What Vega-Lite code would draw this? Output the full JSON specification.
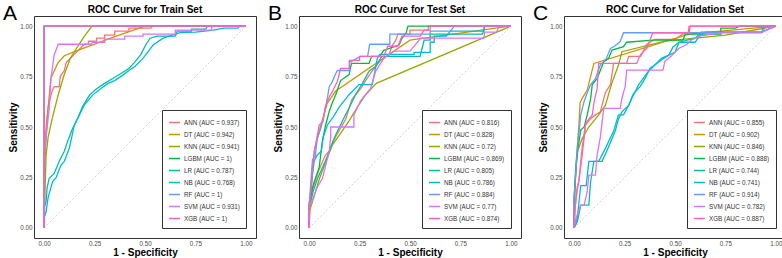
{
"$schema": "https://vega.github.io/schema/vega-lite/v6.json",
"padding": {"left": 2, "right": 0, "top": 2, "bottom": 0},
"spacing": 10,
"resolve": {"scale": {"color": "independent"}, "legend": {"color": "independent"}},
"datasets": {
"train": [
{"model":"ANN","i":0,"fpr":0,"tpr":0},{"model":"ANN","i":1,"fpr":0,"tpr":0.35},{"model":"ANN","i":2,"fpr":0.01,"tpr":0.5},{"model":"ANN","i":3,"fpr":0.02,"tpr":0.6},{"model":"ANN","i":4,"fpr":0.04,"tpr":0.68},{"model":"ANN","i":5,"fpr":0.05,"tpr":0.7},{"model":"ANN","i":6,"fpr":0.075,"tpr":0.7},{"model":"ANN","i":7,"fpr":0.08,"tpr":0.75},{"model":"ANN","i":8,"fpr":0.1,"tpr":0.78},{"model":"ANN","i":9,"fpr":0.11,"tpr":0.82},{"model":"ANN","i":10,"fpr":0.15,"tpr":0.86},{"model":"ANN","i":11,"fpr":0.17,"tpr":0.88},{"model":"ANN","i":12,"fpr":0.2,"tpr":0.91},{"model":"ANN","i":13,"fpr":0.22,"tpr":0.91},{"model":"ANN","i":14,"fpr":0.22,"tpr":0.925},{"model":"ANN","i":15,"fpr":0.26,"tpr":0.925},{"model":"ANN","i":16,"fpr":0.26,"tpr":0.94},{"model":"ANN","i":17,"fpr":0.3,"tpr":0.94},{"model":"ANN","i":18,"fpr":0.3,"tpr":0.955},{"model":"ANN","i":19,"fpr":0.35,"tpr":0.955},{"model":"ANN","i":20,"fpr":0.35,"tpr":0.975},{"model":"ANN","i":21,"fpr":0.42,"tpr":0.975},{"model":"ANN","i":22,"fpr":0.42,"tpr":0.99},{"model":"ANN","i":23,"fpr":0.53,"tpr":0.99},{"model":"ANN","i":24,"fpr":0.537,"tpr":1},{"model":"ANN","i":25,"fpr":1,"tpr":1},
{"model":"DT","i":0,"fpr":0,"tpr":0},{"model":"DT","i":1,"fpr":0.003,"tpr":0.3},{"model":"DT","i":2,"fpr":0.01,"tpr":0.45},{"model":"DT","i":3,"fpr":0.017,"tpr":0.56},{"model":"DT","i":4,"fpr":0.033,"tpr":0.74},{"model":"DT","i":5,"fpr":0.067,"tpr":0.815},{"model":"DT","i":6,"fpr":0.1,"tpr":0.853},{"model":"DT","i":7,"fpr":0.18,"tpr":0.885},{"model":"DT","i":8,"fpr":0.33,"tpr":0.94},{"model":"DT","i":9,"fpr":0.5,"tpr":1},{"model":"DT","i":10,"fpr":1,"tpr":1},
{"model":"KNN","i":0,"fpr":0,"tpr":0},{"model":"KNN","i":1,"fpr":0.005,"tpr":0.2},{"model":"KNN","i":2,"fpr":0.01,"tpr":0.36},{"model":"KNN","i":3,"fpr":0.02,"tpr":0.45},{"model":"KNN","i":4,"fpr":0.04,"tpr":0.54},{"model":"KNN","i":5,"fpr":0.07,"tpr":0.66},{"model":"KNN","i":6,"fpr":0.1,"tpr":0.76},{"model":"KNN","i":7,"fpr":0.13,"tpr":0.84},{"model":"KNN","i":8,"fpr":0.167,"tpr":0.9},{"model":"KNN","i":9,"fpr":0.2,"tpr":0.95},{"model":"KNN","i":10,"fpr":0.237,"tpr":1},{"model":"KNN","i":11,"fpr":1,"tpr":1},
{"model":"LGBM","i":0,"fpr":0,"tpr":0},{"model":"LGBM","i":1,"fpr":0,"tpr":1},{"model":"LGBM","i":2,"fpr":1,"tpr":1},
{"model":"LR","i":0,"fpr":0,"tpr":0},{"model":"LR","i":1,"fpr":0,"tpr":0.1},{"model":"LR","i":2,"fpr":0.01,"tpr":0.13},{"model":"LR","i":3,"fpr":0.015,"tpr":0.2},{"model":"LR","i":4,"fpr":0.025,"tpr":0.245},{"model":"LR","i":5,"fpr":0.05,"tpr":0.27},{"model":"LR","i":6,"fpr":0.075,"tpr":0.33},{"model":"LR","i":7,"fpr":0.1,"tpr":0.38},{"model":"LR","i":8,"fpr":0.117,"tpr":0.43},{"model":"LR","i":9,"fpr":0.14,"tpr":0.49},{"model":"LR","i":10,"fpr":0.167,"tpr":0.543},{"model":"LR","i":11,"fpr":0.19,"tpr":0.6},{"model":"LR","i":12,"fpr":0.225,"tpr":0.658},{"model":"LR","i":13,"fpr":0.26,"tpr":0.69},{"model":"LR","i":14,"fpr":0.3,"tpr":0.716},{"model":"LR","i":15,"fpr":0.34,"tpr":0.74},{"model":"LR","i":16,"fpr":0.383,"tpr":0.766},{"model":"LR","i":17,"fpr":0.42,"tpr":0.79},{"model":"LR","i":18,"fpr":0.45,"tpr":0.823},{"model":"LR","i":19,"fpr":0.48,"tpr":0.86},{"model":"LR","i":20,"fpr":0.5,"tpr":0.9},{"model":"LR","i":21,"fpr":0.525,"tpr":0.94},{"model":"LR","i":22,"fpr":0.56,"tpr":0.95},{"model":"LR","i":23,"fpr":0.65,"tpr":0.95},{"model":"LR","i":24,"fpr":0.66,"tpr":0.975},{"model":"LR","i":25,"fpr":0.73,"tpr":0.975},{"model":"LR","i":26,"fpr":0.73,"tpr":0.985},{"model":"LR","i":27,"fpr":0.8,"tpr":0.985},{"model":"LR","i":28,"fpr":0.81,"tpr":1},{"model":"LR","i":29,"fpr":1,"tpr":1},
{"model":"NB","i":0,"fpr":0,"tpr":0},{"model":"NB","i":1,"fpr":0,"tpr":0.05},{"model":"NB","i":2,"fpr":0.01,"tpr":0.08},{"model":"NB","i":3,"fpr":0.02,"tpr":0.15},{"model":"NB","i":4,"fpr":0.042,"tpr":0.23},{"model":"NB","i":5,"fpr":0.06,"tpr":0.25},{"model":"NB","i":6,"fpr":0.083,"tpr":0.31},{"model":"NB","i":7,"fpr":0.1,"tpr":0.33},{"model":"NB","i":8,"fpr":0.125,"tpr":0.395},{"model":"NB","i":9,"fpr":0.15,"tpr":0.51},{"model":"NB","i":10,"fpr":0.175,"tpr":0.56},{"model":"NB","i":11,"fpr":0.2,"tpr":0.61},{"model":"NB","i":12,"fpr":0.24,"tpr":0.658},{"model":"NB","i":13,"fpr":0.28,"tpr":0.69},{"model":"NB","i":14,"fpr":0.317,"tpr":0.716},{"model":"NB","i":15,"fpr":0.35,"tpr":0.73},{"model":"NB","i":16,"fpr":0.39,"tpr":0.757},{"model":"NB","i":17,"fpr":0.42,"tpr":0.78},{"model":"NB","i":18,"fpr":0.45,"tpr":0.8},{"model":"NB","i":19,"fpr":0.49,"tpr":0.84},{"model":"NB","i":20,"fpr":0.52,"tpr":0.88},{"model":"NB","i":21,"fpr":0.54,"tpr":0.906},{"model":"NB","i":22,"fpr":0.59,"tpr":0.94},{"model":"NB","i":23,"fpr":0.62,"tpr":0.95},{"model":"NB","i":24,"fpr":0.673,"tpr":0.968},{"model":"NB","i":25,"fpr":0.75,"tpr":0.97},{"model":"NB","i":26,"fpr":0.84,"tpr":0.98},{"model":"NB","i":27,"fpr":0.89,"tpr":0.99},{"model":"NB","i":28,"fpr":0.96,"tpr":0.99},{"model":"NB","i":29,"fpr":0.97,"tpr":1},{"model":"NB","i":30,"fpr":1,"tpr":1},
{"model":"RF","i":0,"fpr":0,"tpr":0},{"model":"RF","i":1,"fpr":0,"tpr":1},{"model":"RF","i":2,"fpr":1,"tpr":1},
{"model":"SVM","i":0,"fpr":0,"tpr":0},{"model":"SVM","i":1,"fpr":0,"tpr":0.35},{"model":"SVM","i":2,"fpr":0.01,"tpr":0.45},{"model":"SVM","i":3,"fpr":0.025,"tpr":0.59},{"model":"SVM","i":4,"fpr":0.035,"tpr":0.75},{"model":"SVM","i":5,"fpr":0.05,"tpr":0.857},{"model":"SVM","i":6,"fpr":0.07,"tpr":0.91},{"model":"SVM","i":7,"fpr":0.233,"tpr":0.91},{"model":"SVM","i":8,"fpr":0.24,"tpr":0.92},{"model":"SVM","i":9,"fpr":0.3,"tpr":0.92},{"model":"SVM","i":10,"fpr":0.3,"tpr":0.935},{"model":"SVM","i":11,"fpr":0.4,"tpr":0.935},{"model":"SVM","i":12,"fpr":0.4,"tpr":0.95},{"model":"SVM","i":13,"fpr":0.49,"tpr":0.95},{"model":"SVM","i":14,"fpr":0.49,"tpr":0.96},{"model":"SVM","i":15,"fpr":0.65,"tpr":0.96},{"model":"SVM","i":16,"fpr":0.65,"tpr":0.98},{"model":"SVM","i":17,"fpr":0.83,"tpr":0.98},{"model":"SVM","i":18,"fpr":0.83,"tpr":0.997},{"model":"SVM","i":19,"fpr":0.85,"tpr":1},{"model":"SVM","i":20,"fpr":1,"tpr":1},
{"model":"XGB","i":0,"fpr":0,"tpr":0},{"model":"XGB","i":1,"fpr":0,"tpr":1},{"model":"XGB","i":2,"fpr":1,"tpr":1}
],
"test": [
{"model":"ANN","i":0,"fpr":0,"tpr":0},{"model":"ANN","i":1,"fpr":0,"tpr":0.1},{"model":"ANN","i":2,"fpr":0.02,"tpr":0.2},{"model":"ANN","i":3,"fpr":0.05,"tpr":0.29},{"model":"ANN","i":4,"fpr":0.08,"tpr":0.36},{"model":"ANN","i":5,"fpr":0.1,"tpr":0.38},{"model":"ANN","i":6,"fpr":0.12,"tpr":0.43},{"model":"ANN","i":7,"fpr":0.148,"tpr":0.48},{"model":"ANN","i":8,"fpr":0.182,"tpr":0.54},{"model":"ANN","i":9,"fpr":0.2,"tpr":0.6},{"model":"ANN","i":10,"fpr":0.214,"tpr":0.64},{"model":"ANN","i":11,"fpr":0.256,"tpr":0.69},{"model":"ANN","i":12,"fpr":0.28,"tpr":0.73},{"model":"ANN","i":13,"fpr":0.3,"tpr":0.76},{"model":"ANN","i":14,"fpr":0.322,"tpr":0.79},{"model":"ANN","i":15,"fpr":0.355,"tpr":0.832},{"model":"ANN","i":16,"fpr":0.396,"tpr":0.857},{"model":"ANN","i":17,"fpr":0.41,"tpr":0.9},{"model":"ANN","i":18,"fpr":0.43,"tpr":0.93},{"model":"ANN","i":19,"fpr":0.44,"tpr":0.96},{"model":"ANN","i":20,"fpr":0.5,"tpr":0.96},{"model":"ANN","i":21,"fpr":0.5,"tpr":0.98},{"model":"ANN","i":22,"fpr":0.59,"tpr":0.98},{"model":"ANN","i":23,"fpr":0.59,"tpr":1},{"model":"ANN","i":24,"fpr":1,"tpr":1},
{"model":"DT","i":0,"fpr":0,"tpr":0},{"model":"DT","i":1,"fpr":0.005,"tpr":0.1},{"model":"DT","i":2,"fpr":0.015,"tpr":0.25},{"model":"DT","i":3,"fpr":0.025,"tpr":0.38},{"model":"DT","i":4,"fpr":0.05,"tpr":0.48},{"model":"DT","i":5,"fpr":0.09,"tpr":0.617},{"model":"DT","i":6,"fpr":0.132,"tpr":0.678},{"model":"DT","i":7,"fpr":0.5,"tpr":0.93},{"model":"DT","i":8,"fpr":1,"tpr":1},
{"model":"KNN","i":0,"fpr":0,"tpr":0},{"model":"KNN","i":1,"fpr":0,"tpr":0.08},{"model":"KNN","i":2,"fpr":0.017,"tpr":0.13},{"model":"KNN","i":3,"fpr":0.05,"tpr":0.24},{"model":"KNN","i":4,"fpr":0.08,"tpr":0.32},{"model":"KNN","i":5,"fpr":0.115,"tpr":0.41},{"model":"KNN","i":6,"fpr":0.15,"tpr":0.46},{"model":"KNN","i":7,"fpr":0.198,"tpr":0.53},{"model":"KNN","i":8,"fpr":0.24,"tpr":0.6},{"model":"KNN","i":9,"fpr":0.28,"tpr":0.66},{"model":"KNN","i":10,"fpr":0.333,"tpr":0.716},{"model":"KNN","i":11,"fpr":1,"tpr":1},
{"model":"LGBM","i":0,"fpr":0,"tpr":0},{"model":"LGBM","i":1,"fpr":0,"tpr":0.12},{"model":"LGBM","i":2,"fpr":0.017,"tpr":0.2},{"model":"LGBM","i":3,"fpr":0.025,"tpr":0.228},{"model":"LGBM","i":4,"fpr":0.05,"tpr":0.3},{"model":"LGBM","i":5,"fpr":0.066,"tpr":0.43},{"model":"LGBM","i":6,"fpr":0.082,"tpr":0.51},{"model":"LGBM","i":7,"fpr":0.099,"tpr":0.575},{"model":"LGBM","i":8,"fpr":0.115,"tpr":0.62},{"model":"LGBM","i":9,"fpr":0.132,"tpr":0.66},{"model":"LGBM","i":10,"fpr":0.156,"tpr":0.73},{"model":"LGBM","i":11,"fpr":0.198,"tpr":0.76},{"model":"LGBM","i":12,"fpr":0.21,"tpr":0.815},{"model":"LGBM","i":13,"fpr":0.297,"tpr":0.815},{"model":"LGBM","i":14,"fpr":0.31,"tpr":0.85},{"model":"LGBM","i":15,"fpr":0.35,"tpr":0.85},{"model":"LGBM","i":16,"fpr":0.37,"tpr":0.88},{"model":"LGBM","i":17,"fpr":0.446,"tpr":0.906},{"model":"LGBM","i":18,"fpr":0.46,"tpr":0.94},{"model":"LGBM","i":19,"fpr":0.48,"tpr":0.963},{"model":"LGBM","i":20,"fpr":0.49,"tpr":1},{"model":"LGBM","i":21,"fpr":1,"tpr":1},
{"model":"LR","i":0,"fpr":0,"tpr":0},{"model":"LR","i":1,"fpr":0,"tpr":0.1},{"model":"LR","i":2,"fpr":0.02,"tpr":0.18},{"model":"LR","i":3,"fpr":0.042,"tpr":0.245},{"model":"LR","i":4,"fpr":0.08,"tpr":0.33},{"model":"LR","i":5,"fpr":0.1,"tpr":0.38},{"model":"LR","i":6,"fpr":0.124,"tpr":0.444},{"model":"LR","i":7,"fpr":0.165,"tpr":0.53},{"model":"LR","i":8,"fpr":0.198,"tpr":0.594},{"model":"LR","i":9,"fpr":0.23,"tpr":0.66},{"model":"LR","i":10,"fpr":0.264,"tpr":0.716},{"model":"LR","i":11,"fpr":0.297,"tpr":0.776},{"model":"LR","i":12,"fpr":0.33,"tpr":0.8},{"model":"LR","i":13,"fpr":0.36,"tpr":0.85},{"model":"LR","i":14,"fpr":0.55,"tpr":0.85},{"model":"LR","i":15,"fpr":0.57,"tpr":0.93},{"model":"LR","i":16,"fpr":0.6,"tpr":0.93},{"model":"LR","i":17,"fpr":0.6,"tpr":0.96},{"model":"LR","i":18,"fpr":0.86,"tpr":0.96},{"model":"LR","i":19,"fpr":0.87,"tpr":1},{"model":"LR","i":20,"fpr":1,"tpr":1},
{"model":"NB","i":0,"fpr":0,"tpr":0},{"model":"NB","i":1,"fpr":0,"tpr":0.1},{"model":"NB","i":2,"fpr":0.015,"tpr":0.25},{"model":"NB","i":3,"fpr":0.025,"tpr":0.33},{"model":"NB","i":4,"fpr":0.04,"tpr":0.36},{"model":"NB","i":5,"fpr":0.06,"tpr":0.38},{"model":"NB","i":6,"fpr":0.07,"tpr":0.45},{"model":"NB","i":7,"fpr":0.091,"tpr":0.51},{"model":"NB","i":8,"fpr":0.12,"tpr":0.55},{"model":"NB","i":9,"fpr":0.15,"tpr":0.6},{"model":"NB","i":10,"fpr":0.198,"tpr":0.66},{"model":"NB","i":11,"fpr":0.247,"tpr":0.71},{"model":"NB","i":12,"fpr":0.313,"tpr":0.71},{"model":"NB","i":13,"fpr":0.338,"tpr":0.84},{"model":"NB","i":14,"fpr":0.35,"tpr":0.86},{"model":"NB","i":15,"fpr":0.52,"tpr":0.86},{"model":"NB","i":16,"fpr":0.52,"tpr":0.87},{"model":"NB","i":17,"fpr":0.6,"tpr":0.87},{"model":"NB","i":18,"fpr":0.6,"tpr":0.92},{"model":"NB","i":19,"fpr":0.62,"tpr":0.92},{"model":"NB","i":20,"fpr":0.62,"tpr":0.95},{"model":"NB","i":21,"fpr":0.68,"tpr":0.95},{"model":"NB","i":22,"fpr":0.7,"tpr":0.975},{"model":"NB","i":23,"fpr":0.866,"tpr":0.975},{"model":"NB","i":24,"fpr":0.87,"tpr":1},{"model":"NB","i":25,"fpr":1,"tpr":1},
{"model":"RF","i":0,"fpr":0,"tpr":0},{"model":"RF","i":1,"fpr":0,"tpr":0.1},{"model":"RF","i":2,"fpr":0.01,"tpr":0.25},{"model":"RF","i":3,"fpr":0.017,"tpr":0.34},{"model":"RF","i":4,"fpr":0.03,"tpr":0.35},{"model":"RF","i":5,"fpr":0.04,"tpr":0.44},{"model":"RF","i":6,"fpr":0.06,"tpr":0.5},{"model":"RF","i":7,"fpr":0.074,"tpr":0.56},{"model":"RF","i":8,"fpr":0.09,"tpr":0.64},{"model":"RF","i":9,"fpr":0.1,"tpr":0.7},{"model":"RF","i":10,"fpr":0.115,"tpr":0.725},{"model":"RF","i":11,"fpr":0.13,"tpr":0.76},{"model":"RF","i":12,"fpr":0.14,"tpr":0.78},{"model":"RF","i":13,"fpr":0.2,"tpr":0.78},{"model":"RF","i":14,"fpr":0.2,"tpr":0.82},{"model":"RF","i":15,"fpr":0.255,"tpr":0.85},{"model":"RF","i":16,"fpr":0.29,"tpr":0.85},{"model":"RF","i":17,"fpr":0.3,"tpr":0.91},{"model":"RF","i":18,"fpr":0.4,"tpr":0.91},{"model":"RF","i":19,"fpr":0.4,"tpr":0.96},{"model":"RF","i":20,"fpr":0.6,"tpr":0.96},{"model":"RF","i":21,"fpr":0.6,"tpr":0.975},{"model":"RF","i":22,"fpr":0.7,"tpr":0.975},{"model":"RF","i":23,"fpr":0.72,"tpr":1},{"model":"RF","i":24,"fpr":1,"tpr":1},
{"model":"SVM","i":0,"fpr":0,"tpr":0},{"model":"SVM","i":1,"fpr":0,"tpr":0.1},{"model":"SVM","i":2,"fpr":0.02,"tpr":0.15},{"model":"SVM","i":3,"fpr":0.04,"tpr":0.2},{"model":"SVM","i":4,"fpr":0.066,"tpr":0.245},{"model":"SVM","i":5,"fpr":0.08,"tpr":0.3},{"model":"SVM","i":6,"fpr":0.1,"tpr":0.38},{"model":"SVM","i":7,"fpr":0.107,"tpr":0.45},{"model":"SVM","i":8,"fpr":0.107,"tpr":0.5},{"model":"SVM","i":9,"fpr":0.222,"tpr":0.5},{"model":"SVM","i":10,"fpr":0.222,"tpr":0.56},{"model":"SVM","i":11,"fpr":0.255,"tpr":0.63},{"model":"SVM","i":12,"fpr":0.304,"tpr":0.69},{"model":"SVM","i":13,"fpr":0.33,"tpr":0.777},{"model":"SVM","i":14,"fpr":0.37,"tpr":0.84},{"model":"SVM","i":15,"fpr":0.42,"tpr":0.876},{"model":"SVM","i":16,"fpr":0.5,"tpr":0.876},{"model":"SVM","i":17,"fpr":0.545,"tpr":0.93},{"model":"SVM","i":18,"fpr":0.55,"tpr":0.94},{"model":"SVM","i":19,"fpr":0.866,"tpr":0.94},{"model":"SVM","i":20,"fpr":0.87,"tpr":0.97},{"model":"SVM","i":21,"fpr":0.93,"tpr":0.97},{"model":"SVM","i":22,"fpr":0.94,"tpr":1},{"model":"SVM","i":23,"fpr":1,"tpr":1},
{"model":"XGB","i":0,"fpr":0,"tpr":0},{"model":"XGB","i":1,"fpr":0,"tpr":0.1},{"model":"XGB","i":2,"fpr":0.01,"tpr":0.2},{"model":"XGB","i":3,"fpr":0.017,"tpr":0.3},{"model":"XGB","i":4,"fpr":0.03,"tpr":0.4},{"model":"XGB","i":5,"fpr":0.05,"tpr":0.51},{"model":"XGB","i":6,"fpr":0.07,"tpr":0.53},{"model":"XGB","i":7,"fpr":0.08,"tpr":0.6},{"model":"XGB","i":8,"fpr":0.1,"tpr":0.65},{"model":"XGB","i":9,"fpr":0.115,"tpr":0.675},{"model":"XGB","i":10,"fpr":0.14,"tpr":0.725},{"model":"XGB","i":11,"fpr":0.156,"tpr":0.79},{"model":"XGB","i":12,"fpr":0.2,"tpr":0.79},{"model":"XGB","i":13,"fpr":0.2,"tpr":0.83},{"model":"XGB","i":14,"fpr":0.25,"tpr":0.83},{"model":"XGB","i":15,"fpr":0.25,"tpr":0.85},{"model":"XGB","i":16,"fpr":0.37,"tpr":0.85},{"model":"XGB","i":17,"fpr":0.39,"tpr":0.9},{"model":"XGB","i":18,"fpr":0.44,"tpr":0.9},{"model":"XGB","i":19,"fpr":0.46,"tpr":0.95},{"model":"XGB","i":20,"fpr":0.55,"tpr":0.95},{"model":"XGB","i":21,"fpr":0.57,"tpr":0.98},{"model":"XGB","i":22,"fpr":0.6,"tpr":0.98},{"model":"XGB","i":23,"fpr":0.6,"tpr":1},{"model":"XGB","i":24,"fpr":1,"tpr":1}
],
"validation": [
{"model":"ANN","i":0,"fpr":0,"tpr":0},{"model":"ANN","i":1,"fpr":0.005,"tpr":0.1},{"model":"ANN","i":2,"fpr":0.015,"tpr":0.18},{"model":"ANN","i":3,"fpr":0.024,"tpr":0.235},{"model":"ANN","i":4,"fpr":0.04,"tpr":0.36},{"model":"ANN","i":5,"fpr":0.057,"tpr":0.51},{"model":"ANN","i":6,"fpr":0.08,"tpr":0.54},{"model":"ANN","i":7,"fpr":0.106,"tpr":0.56},{"model":"ANN","i":8,"fpr":0.13,"tpr":0.575},{"model":"ANN","i":9,"fpr":0.155,"tpr":0.67},{"model":"ANN","i":10,"fpr":0.18,"tpr":0.71},{"model":"ANN","i":11,"fpr":0.196,"tpr":0.815},{"model":"ANN","i":12,"fpr":0.26,"tpr":0.815},{"model":"ANN","i":13,"fpr":0.27,"tpr":0.85},{"model":"ANN","i":14,"fpr":0.33,"tpr":0.85},{"model":"ANN","i":15,"fpr":0.36,"tpr":0.91},{"model":"ANN","i":16,"fpr":0.4,"tpr":0.934},{"model":"ANN","i":17,"fpr":0.5,"tpr":0.934},{"model":"ANN","i":18,"fpr":0.55,"tpr":0.967},{"model":"ANN","i":19,"fpr":0.565,"tpr":0.967},{"model":"ANN","i":20,"fpr":0.57,"tpr":1},{"model":"ANN","i":21,"fpr":1,"tpr":1},
{"model":"DT","i":0,"fpr":0,"tpr":0},{"model":"DT","i":1,"fpr":0.005,"tpr":0.2},{"model":"DT","i":2,"fpr":0.012,"tpr":0.35},{"model":"DT","i":3,"fpr":0.024,"tpr":0.51},{"model":"DT","i":4,"fpr":0.03,"tpr":0.62},{"model":"DT","i":5,"fpr":0.04,"tpr":0.642},{"model":"DT","i":6,"fpr":0.065,"tpr":0.683},{"model":"DT","i":7,"fpr":0.098,"tpr":0.815},{"model":"DT","i":8,"fpr":0.57,"tpr":0.96},{"model":"DT","i":9,"fpr":1,"tpr":1},
{"model":"KNN","i":0,"fpr":0,"tpr":0},{"model":"KNN","i":1,"fpr":0.003,"tpr":0.2},{"model":"KNN","i":2,"fpr":0.008,"tpr":0.3},{"model":"KNN","i":3,"fpr":0.016,"tpr":0.378},{"model":"KNN","i":4,"fpr":0.04,"tpr":0.443},{"model":"KNN","i":5,"fpr":0.073,"tpr":0.5},{"model":"KNN","i":6,"fpr":0.122,"tpr":0.56},{"model":"KNN","i":7,"fpr":0.155,"tpr":0.607},{"model":"KNN","i":8,"fpr":0.188,"tpr":0.72},{"model":"KNN","i":9,"fpr":0.22,"tpr":0.807},{"model":"KNN","i":10,"fpr":0.237,"tpr":0.873},{"model":"KNN","i":11,"fpr":0.45,"tpr":0.925},{"model":"KNN","i":12,"fpr":0.75,"tpr":0.955},{"model":"KNN","i":13,"fpr":1,"tpr":1},
{"model":"LGBM","i":0,"fpr":0,"tpr":0},{"model":"LGBM","i":1,"fpr":0,"tpr":0.15},{"model":"LGBM","i":2,"fpr":0.01,"tpr":0.3},{"model":"LGBM","i":3,"fpr":0.02,"tpr":0.4},{"model":"LGBM","i":4,"fpr":0.033,"tpr":0.485},{"model":"LGBM","i":5,"fpr":0.05,"tpr":0.5},{"model":"LGBM","i":6,"fpr":0.065,"tpr":0.56},{"model":"LGBM","i":7,"fpr":0.082,"tpr":0.64},{"model":"LGBM","i":8,"fpr":0.09,"tpr":0.71},{"model":"LGBM","i":9,"fpr":0.114,"tpr":0.74},{"model":"LGBM","i":10,"fpr":0.13,"tpr":0.78},{"model":"LGBM","i":11,"fpr":0.147,"tpr":0.823},{"model":"LGBM","i":12,"fpr":0.171,"tpr":0.84},{"model":"LGBM","i":13,"fpr":0.188,"tpr":0.881},{"model":"LGBM","i":14,"fpr":0.245,"tpr":0.898},{"model":"LGBM","i":15,"fpr":0.26,"tpr":0.92},{"model":"LGBM","i":16,"fpr":0.392,"tpr":0.93},{"model":"LGBM","i":17,"fpr":0.54,"tpr":0.93},{"model":"LGBM","i":18,"fpr":0.55,"tpr":0.96},{"model":"LGBM","i":19,"fpr":0.727,"tpr":0.96},{"model":"LGBM","i":20,"fpr":0.727,"tpr":0.99},{"model":"LGBM","i":21,"fpr":0.8,"tpr":0.99},{"model":"LGBM","i":22,"fpr":0.82,"tpr":1},{"model":"LGBM","i":23,"fpr":1,"tpr":1},
{"model":"LR","i":0,"fpr":0,"tpr":0},{"model":"LR","i":1,"fpr":0.016,"tpr":0.03},{"model":"LR","i":2,"fpr":0.033,"tpr":0.113},{"model":"LR","i":3,"fpr":0.073,"tpr":0.113},{"model":"LR","i":4,"fpr":0.082,"tpr":0.23},{"model":"LR","i":5,"fpr":0.098,"tpr":0.33},{"model":"LR","i":6,"fpr":0.139,"tpr":0.33},{"model":"LR","i":7,"fpr":0.17,"tpr":0.4},{"model":"LR","i":8,"fpr":0.204,"tpr":0.48},{"model":"LR","i":9,"fpr":0.22,"tpr":0.54},{"model":"LR","i":10,"fpr":0.237,"tpr":0.575},{"model":"LR","i":11,"fpr":0.27,"tpr":0.607},{"model":"LR","i":12,"fpr":0.294,"tpr":0.666},{"model":"LR","i":13,"fpr":0.327,"tpr":0.7},{"model":"LR","i":14,"fpr":0.351,"tpr":0.74},{"model":"LR","i":15,"fpr":0.376,"tpr":0.79},{"model":"LR","i":16,"fpr":0.433,"tpr":0.832},{"model":"LR","i":17,"fpr":0.47,"tpr":0.856},{"model":"LR","i":18,"fpr":0.49,"tpr":0.897},{"model":"LR","i":19,"fpr":0.52,"tpr":0.92},{"model":"LR","i":20,"fpr":0.6,"tpr":0.94},{"model":"LR","i":21,"fpr":0.63,"tpr":0.97},{"model":"LR","i":22,"fpr":0.93,"tpr":0.97},{"model":"LR","i":23,"fpr":0.94,"tpr":1},{"model":"LR","i":24,"fpr":1,"tpr":1},
{"model":"NB","i":0,"fpr":0,"tpr":0},{"model":"NB","i":1,"fpr":0.016,"tpr":0.05},{"model":"NB","i":2,"fpr":0.033,"tpr":0.21},{"model":"NB","i":3,"fpr":0.06,"tpr":0.21},{"model":"NB","i":4,"fpr":0.073,"tpr":0.33},{"model":"NB","i":5,"fpr":0.122,"tpr":0.33},{"model":"NB","i":6,"fpr":0.155,"tpr":0.394},{"model":"NB","i":7,"fpr":0.196,"tpr":0.48},{"model":"NB","i":8,"fpr":0.22,"tpr":0.56},{"model":"NB","i":9,"fpr":0.245,"tpr":0.56},{"model":"NB","i":10,"fpr":0.27,"tpr":0.607},{"model":"NB","i":11,"fpr":0.295,"tpr":0.66},{"model":"NB","i":12,"fpr":0.32,"tpr":0.71},{"model":"NB","i":13,"fpr":0.367,"tpr":0.774},{"model":"NB","i":14,"fpr":0.4,"tpr":0.807},{"model":"NB","i":15,"fpr":0.433,"tpr":0.84},{"model":"NB","i":16,"fpr":0.5,"tpr":0.87},{"model":"NB","i":17,"fpr":0.52,"tpr":0.92},{"model":"NB","i":18,"fpr":0.6,"tpr":0.92},{"model":"NB","i":19,"fpr":0.62,"tpr":0.95},{"model":"NB","i":20,"fpr":0.65,"tpr":0.97},{"model":"NB","i":21,"fpr":0.93,"tpr":0.97},{"model":"NB","i":22,"fpr":1,"tpr":1},
{"model":"RF","i":0,"fpr":0,"tpr":0},{"model":"RF","i":1,"fpr":0,"tpr":0.15},{"model":"RF","i":2,"fpr":0.01,"tpr":0.3},{"model":"RF","i":3,"fpr":0.016,"tpr":0.394},{"model":"RF","i":4,"fpr":0.025,"tpr":0.48},{"model":"RF","i":5,"fpr":0.033,"tpr":0.56},{"model":"RF","i":6,"fpr":0.049,"tpr":0.625},{"model":"RF","i":7,"fpr":0.065,"tpr":0.67},{"model":"RF","i":8,"fpr":0.082,"tpr":0.71},{"model":"RF","i":9,"fpr":0.106,"tpr":0.74},{"model":"RF","i":10,"fpr":0.12,"tpr":0.78},{"model":"RF","i":11,"fpr":0.13,"tpr":0.807},{"model":"RF","i":12,"fpr":0.16,"tpr":0.84},{"model":"RF","i":13,"fpr":0.18,"tpr":0.889},{"model":"RF","i":14,"fpr":0.2,"tpr":0.9},{"model":"RF","i":15,"fpr":0.228,"tpr":0.922},{"model":"RF","i":16,"fpr":0.245,"tpr":0.967},{"model":"RF","i":17,"fpr":0.93,"tpr":0.967},{"model":"RF","i":18,"fpr":0.95,"tpr":1},{"model":"RF","i":19,"fpr":1,"tpr":1},
{"model":"SVM","i":0,"fpr":0,"tpr":0},{"model":"SVM","i":1,"fpr":0.01,"tpr":0.05},{"model":"SVM","i":2,"fpr":0.033,"tpr":0.113},{"model":"SVM","i":3,"fpr":0.05,"tpr":0.113},{"model":"SVM","i":4,"fpr":0.065,"tpr":0.18},{"model":"SVM","i":5,"fpr":0.073,"tpr":0.262},{"model":"SVM","i":6,"fpr":0.106,"tpr":0.262},{"model":"SVM","i":7,"fpr":0.114,"tpr":0.36},{"model":"SVM","i":8,"fpr":0.13,"tpr":0.45},{"model":"SVM","i":9,"fpr":0.139,"tpr":0.527},{"model":"SVM","i":10,"fpr":0.147,"tpr":0.592},{"model":"SVM","i":11,"fpr":0.228,"tpr":0.592},{"model":"SVM","i":12,"fpr":0.237,"tpr":0.642},{"model":"SVM","i":13,"fpr":0.253,"tpr":0.7},{"model":"SVM","i":14,"fpr":0.261,"tpr":0.782},{"model":"SVM","i":15,"fpr":0.44,"tpr":0.782},{"model":"SVM","i":16,"fpr":0.45,"tpr":0.826},{"model":"SVM","i":17,"fpr":0.48,"tpr":0.85},{"model":"SVM","i":18,"fpr":0.52,"tpr":0.89},{"model":"SVM","i":19,"fpr":0.56,"tpr":0.91},{"model":"SVM","i":20,"fpr":0.58,"tpr":0.93},{"model":"SVM","i":21,"fpr":0.62,"tpr":0.95},{"model":"SVM","i":22,"fpr":0.75,"tpr":0.97},{"model":"SVM","i":23,"fpr":0.93,"tpr":0.97},{"model":"SVM","i":24,"fpr":1,"tpr":1},
{"model":"XGB","i":0,"fpr":0,"tpr":0},{"model":"XGB","i":1,"fpr":0.005,"tpr":0.1},{"model":"XGB","i":2,"fpr":0.015,"tpr":0.2},{"model":"XGB","i":3,"fpr":0.024,"tpr":0.235},{"model":"XGB","i":4,"fpr":0.04,"tpr":0.4},{"model":"XGB","i":5,"fpr":0.057,"tpr":0.518},{"model":"XGB","i":6,"fpr":0.09,"tpr":0.56},{"model":"XGB","i":7,"fpr":0.1,"tpr":0.63},{"model":"XGB","i":8,"fpr":0.114,"tpr":0.69},{"model":"XGB","i":9,"fpr":0.122,"tpr":0.815},{"model":"XGB","i":10,"fpr":0.31,"tpr":0.815},{"model":"XGB","i":11,"fpr":0.33,"tpr":0.86},{"model":"XGB","i":12,"fpr":0.36,"tpr":0.89},{"model":"XGB","i":13,"fpr":0.39,"tpr":0.967},{"model":"XGB","i":14,"fpr":0.57,"tpr":0.967},{"model":"XGB","i":15,"fpr":0.575,"tpr":1},{"model":"XGB","i":16,"fpr":1,"tpr":1}
]
},
"hconcat": [
{
"width": 222, "height": 222,
"title": {"text": "ROC Curve for Train Set"},
"layer": [
{"data": {"values": [{}]}, "mark": {"type": "rule", "color": "#C8C8C8", "strokeDash": [2, 2], "strokeWidth": 0.8},
 "encoding": {"x": {"datum": 0, "type": "quantitative", "title": "1 - Specificity", "scale": {"domain": [-0.05, 1.05], "nice": false}, "axis": {"values": [0, 0.125, 0.25, 0.375, 0.5, 0.625, 0.75, 0.875, 1], "labelExpr": "(datum.value*4) % 1 === 0 ? format(datum.value, '.2f') : ''"}}, "y": {"datum": 0, "type": "quantitative", "title": "Sensitivity", "scale": {"domain": [-0.05, 1.05], "nice": false}, "axis": {"values": [0, 0.125, 0.25, 0.375, 0.5, 0.625, 0.75, 0.875, 1], "labelExpr": "(datum.value*4) % 1 === 0 ? format(datum.value, '.2f') : ''"}}, "x2": {"datum": 1}, "y2": {"datum": 1}}},
{"data": {"name": "train"}, "mark": {"type": "line", "strokeWidth": 1.3},
 "encoding": {
  "x": {"field": "fpr", "type": "quantitative", "title": "1 - Specificity", "scale": {"domain": [-0.05, 1.05], "nice": false}, "axis": {"values": [0, 0.125, 0.25, 0.375, 0.5, 0.625, 0.75, 0.875, 1], "labelExpr": "(datum.value*4) % 1 === 0 ? format(datum.value, '.2f') : ''"}},
  "y": {"field": "tpr", "type": "quantitative", "title": "Sensitivity", "scale": {"domain": [-0.05, 1.05], "nice": false}, "axis": {"values": [0, 0.125, 0.25, 0.375, 0.5, 0.625, 0.75, 0.875, 1], "labelExpr": "(datum.value*4) % 1 === 0 ? format(datum.value, '.2f') : ''"}},
  "color": {"field": "model", "type": "nominal", "scale": {"domain": ["ANN","DT","KNN","LGBM","LR","NB","RF","SVM","XGB"], "range": ["#F8766D","#D39200","#93AA00","#00BA38","#00C19F","#00B9E3","#619CFF","#DB72FB","#FF61C3"]},
    "legend": {"title": null, "labelExpr": "{'ANN':'ANN (AUC = 0.937)','DT':'DT (AUC = 0.942)','KNN':'KNN (AUC = 0.941)','LGBM':'LGBM (AUC = 1)','LR':'LR (AUC = 0.787)','NB':'NB (AUC = 0.768)','RF':'RF (AUC = 1)','SVM':'SVM (AUC = 0.931)','XGB':'XGB (AUC = 1)'}[datum.label]"}},
  "order": {"field": "i", "type": "quantitative"}
 }},
{"data": {"values": [{}]}, "mark": {"type": "text", "text": "A", "fontSize": 21, "align": "left", "baseline": "alphabetic", "color": "black"},
 "encoding": {"x": {"datum": -0.204, "type": "quantitative", "title": "1 - Specificity", "scale": {"domain": [-0.05, 1.05], "nice": false}, "axis": {"values": [0, 0.125, 0.25, 0.375, 0.5, 0.625, 0.75, 0.875, 1], "labelExpr": "(datum.value*4) % 1 === 0 ? format(datum.value, '.2f') : ''"}}, "y": {"datum": 1.029, "type": "quantitative", "title": "Sensitivity", "scale": {"domain": [-0.05, 1.05], "nice": false}, "axis": {"values": [0, 0.125, 0.25, 0.375, 0.5, 0.625, 0.75, 0.875, 1], "labelExpr": "(datum.value*4) % 1 === 0 ? format(datum.value, '.2f') : ''"}}}}
]
},
{
"width": 222, "height": 222,
"title": {"text": "ROC Curve for Test Set"},
"layer": [
{"data": {"values": [{}]}, "mark": {"type": "rule", "color": "#C8C8C8", "strokeDash": [2, 2], "strokeWidth": 0.8},
 "encoding": {"x": {"datum": 0, "type": "quantitative", "title": "1 - Specificity", "scale": {"domain": [-0.05, 1.05], "nice": false}, "axis": {"values": [0, 0.125, 0.25, 0.375, 0.5, 0.625, 0.75, 0.875, 1], "labelExpr": "(datum.value*4) % 1 === 0 ? format(datum.value, '.2f') : ''"}}, "y": {"datum": 0, "type": "quantitative", "title": "Sensitivity", "scale": {"domain": [-0.05, 1.05], "nice": false}, "axis": {"values": [0, 0.125, 0.25, 0.375, 0.5, 0.625, 0.75, 0.875, 1], "labelExpr": "(datum.value*4) % 1 === 0 ? format(datum.value, '.2f') : ''"}}, "x2": {"datum": 1}, "y2": {"datum": 1}}},
{"data": {"name": "test"}, "mark": {"type": "line", "strokeWidth": 1.3},
 "encoding": {
  "x": {"field": "fpr", "type": "quantitative", "title": "1 - Specificity", "scale": {"domain": [-0.05, 1.05], "nice": false}, "axis": {"values": [0, 0.125, 0.25, 0.375, 0.5, 0.625, 0.75, 0.875, 1], "labelExpr": "(datum.value*4) % 1 === 0 ? format(datum.value, '.2f') : ''"}},
  "y": {"field": "tpr", "type": "quantitative", "title": "Sensitivity", "scale": {"domain": [-0.05, 1.05], "nice": false}, "axis": {"values": [0, 0.125, 0.25, 0.375, 0.5, 0.625, 0.75, 0.875, 1], "labelExpr": "(datum.value*4) % 1 === 0 ? format(datum.value, '.2f') : ''"}},
  "color": {"field": "model", "type": "nominal", "scale": {"domain": ["ANN","DT","KNN","LGBM","LR","NB","RF","SVM","XGB"], "range": ["#F8766D","#D39200","#93AA00","#00BA38","#00C19F","#00B9E3","#619CFF","#DB72FB","#FF61C3"]},
    "legend": {"title": null, "labelExpr": "{'ANN':'ANN (AUC = 0.816)','DT':'DT (AUC = 0.828)','KNN':'KNN (AUC = 0.72)','LGBM':'LGBM (AUC = 0.869)','LR':'LR (AUC = 0.805)','NB':'NB (AUC = 0.786)','RF':'RF (AUC = 0.884)','SVM':'SVM (AUC = 0.77)','XGB':'XGB (AUC = 0.874)'}[datum.label]"}},
  "order": {"field": "i", "type": "quantitative"}
 }},
{"data": {"values": [{}]}, "mark": {"type": "text", "text": "B", "fontSize": 21, "align": "left", "baseline": "alphabetic", "color": "black"},
 "encoding": {"x": {"datum": -0.204, "type": "quantitative", "title": "1 - Specificity", "scale": {"domain": [-0.05, 1.05], "nice": false}, "axis": {"values": [0, 0.125, 0.25, 0.375, 0.5, 0.625, 0.75, 0.875, 1], "labelExpr": "(datum.value*4) % 1 === 0 ? format(datum.value, '.2f') : ''"}}, "y": {"datum": 1.029, "type": "quantitative", "title": "Sensitivity", "scale": {"domain": [-0.05, 1.05], "nice": false}, "axis": {"values": [0, 0.125, 0.25, 0.375, 0.5, 0.625, 0.75, 0.875, 1], "labelExpr": "(datum.value*4) % 1 === 0 ? format(datum.value, '.2f') : ''"}}}}
]
},
{
"width": 222, "height": 222,
"title": {"text": "ROC Curve for Validation Set"},
"layer": [
{"data": {"values": [{}]}, "mark": {"type": "rule", "color": "#C8C8C8", "strokeDash": [2, 2], "strokeWidth": 0.8},
 "encoding": {"x": {"datum": 0, "type": "quantitative", "title": "1 - Specificity", "scale": {"domain": [-0.05, 1.05], "nice": false}, "axis": {"values": [0, 0.125, 0.25, 0.375, 0.5, 0.625, 0.75, 0.875, 1], "labelExpr": "(datum.value*4) % 1 === 0 ? format(datum.value, '.2f') : ''"}}, "y": {"datum": 0, "type": "quantitative", "title": "Sensitivity", "scale": {"domain": [-0.05, 1.05], "nice": false}, "axis": {"values": [0, 0.125, 0.25, 0.375, 0.5, 0.625, 0.75, 0.875, 1], "labelExpr": "(datum.value*4) % 1 === 0 ? format(datum.value, '.2f') : ''"}}, "x2": {"datum": 1}, "y2": {"datum": 1}}},
{"data": {"name": "validation"}, "mark": {"type": "line", "strokeWidth": 1.3},
 "encoding": {
  "x": {"field": "fpr", "type": "quantitative", "title": "1 - Specificity", "scale": {"domain": [-0.05, 1.05], "nice": false}, "axis": {"values": [0, 0.125, 0.25, 0.375, 0.5, 0.625, 0.75, 0.875, 1], "labelExpr": "(datum.value*4) % 1 === 0 ? format(datum.value, '.2f') : ''"}},
  "y": {"field": "tpr", "type": "quantitative", "title": "Sensitivity", "scale": {"domain": [-0.05, 1.05], "nice": false}, "axis": {"values": [0, 0.125, 0.25, 0.375, 0.5, 0.625, 0.75, 0.875, 1], "labelExpr": "(datum.value*4) % 1 === 0 ? format(datum.value, '.2f') : ''"}},
  "color": {"field": "model", "type": "nominal", "scale": {"domain": ["ANN","DT","KNN","LGBM","LR","NB","RF","SVM","XGB"], "range": ["#F8766D","#D39200","#93AA00","#00BA38","#00C19F","#00B9E3","#619CFF","#DB72FB","#FF61C3"]},
    "legend": {"title": null, "labelExpr": "{'ANN':'ANN (AUC = 0.855)','DT':'DT (AUC = 0.902)','KNN':'KNN (AUC = 0.846)','LGBM':'LGBM (AUC = 0.888)','LR':'LR (AUC = 0.744)','NB':'NB (AUC = 0.741)','RF':'RF (AUC = 0.914)','SVM':'SVM (AUC = 0.782)','XGB':'XGB (AUC = 0.887)'}[datum.label]"}},
  "order": {"field": "i", "type": "quantitative"}
 }},
{"data": {"values": [{}]}, "mark": {"type": "text", "text": "C", "fontSize": 21, "align": "left", "baseline": "alphabetic", "color": "black"},
 "encoding": {"x": {"datum": -0.204, "type": "quantitative", "title": "1 - Specificity", "scale": {"domain": [-0.05, 1.05], "nice": false}, "axis": {"values": [0, 0.125, 0.25, 0.375, 0.5, 0.625, 0.75, 0.875, 1], "labelExpr": "(datum.value*4) % 1 === 0 ? format(datum.value, '.2f') : ''"}}, "y": {"datum": 1.029, "type": "quantitative", "title": "Sensitivity", "scale": {"domain": [-0.05, 1.05], "nice": false}, "axis": {"values": [0, 0.125, 0.25, 0.375, 0.5, 0.625, 0.75, 0.875, 1], "labelExpr": "(datum.value*4) % 1 === 0 ? format(datum.value, '.2f') : ''"}}}}
]
}
],
"config": {
 "font": "Liberation Sans",
 "view": {"stroke": "#333333", "strokeWidth": 1},
 "axis": {"labelFontSize": 6.3, "labelColor": "#4D4D4D", "labelPadding": 2, "labelOverlap": false, "labelFlush": false, "titleFontSize": 10, "titleFontWeight": "bold", "titleColor": "black", "ticks": false, "domain": false,
   "gridColor": {"condition": {"test": "(datum.value*4) % 1 === 0", "value": "#E8E8E8"}, "value": "#F4F4F4"},
   "gridWidth": {"condition": {"test": "(datum.value*4) % 1 === 0", "value": 0.8}, "value": 0.5}},
 "axisX": {"titlePadding": 1},
 "axisY": {"titlePadding": 1},
 "title": {"fontSize": 10, "fontWeight": "bold", "color": "black", "anchor": "middle", "frame": "group", "offset": -12, "baseline": "alphabetic"},
 "legend": {"orient": "bottom-right", "offset": 10, "symbolType": "stroke", "symbolSize": 121, "symbolStrokeWidth": 1.5, "labelFontSize": 6.3, "labelColor": "#333333", "labelOffset": 3, "rowPadding": 2, "padding": 6, "strokeColor": "#333333", "fillColor": "white"}
}
}
